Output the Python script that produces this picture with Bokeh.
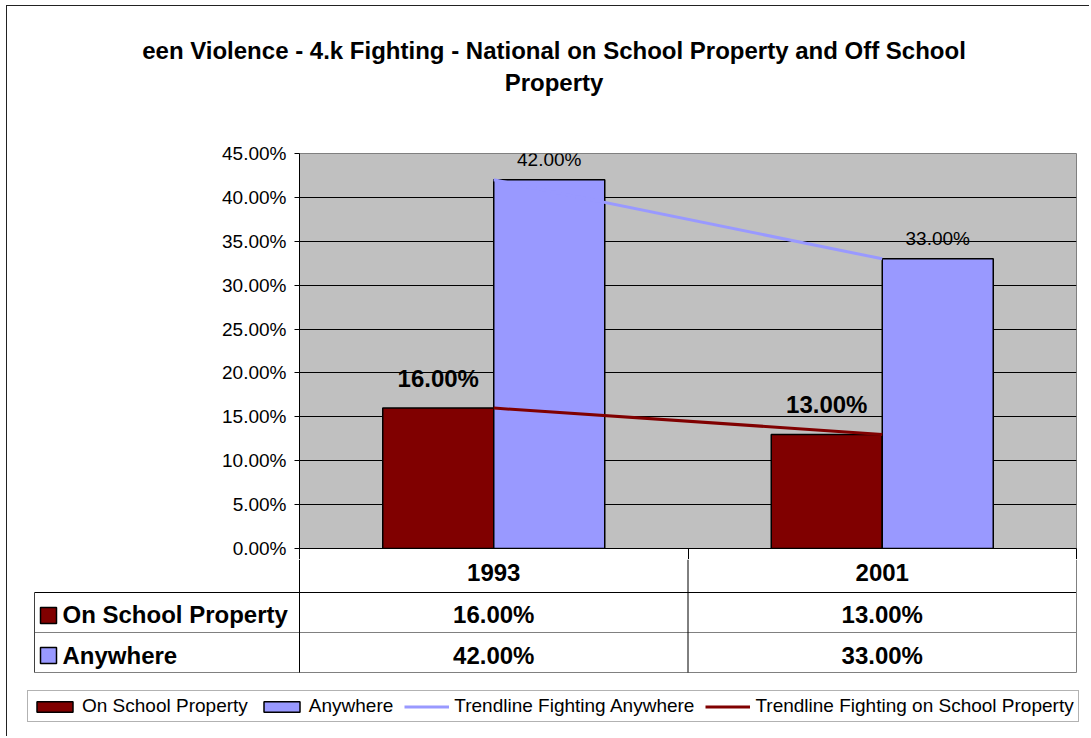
from bokeh.plotting import figure
from bokeh.models import (ColumnDataSource, Range1d, LinearAxis, FixedTicker,
                          PrintfTickFormatter, Legend, LegendItem)
from bokeh.transform import dodge
from bokeh.layouts import column
from bokeh.core.properties import value
from bokeh.embed import file_html
from bokeh.resources import INLINE

# ---------------- data ----------------
title_lines = ["een Violence - 4.k Fighting - National on School Property and Off School",
               "Property"]
years = ["1993", "2001"]
series = ["On School Property", "Anywhere"]
on_school = [16.0, 13.0]
anywhere = [42.0, 33.0]
trend_labels = ["Trendline Fighting Anywhere", "Trendline Fighting on School Property"]
y_ticks = [0, 5, 10, 15, 20, 25, 30, 35, 40, 45]

# ---------------- style / layout (page pixels) ----------------
MAROON = "#800000"
PERI = "#9999FF"
PLOT_BG = "#C0C0C0"
FONT = "Liberation Sans"
OX, OY = 7, 6            # chart area starts just inside its border line
W = 1082
FRAME_L, FRAME_R, FRAME_T, FRAME_B = 299, 1076, 153, 548
A_TOP, A_BOT, PAGE_END = 140, 559, 736
TABLE_L = 34
ROW1_B, ROW2_B, ROW3_B = 592, 632, 672
LEG_L, LEG_B = 27, 722
BAR_W = 1 / 3.5


def fmt(v):
    return f"{v:.2f}%"


n = len(years)
# category slot i occupies [i, i+1] on the x scale; its centre is i + 0.5
src = ColumnDataSource(dict(
    year=years, pos=[i + 0.5 for i in range(n)],
    on_school=on_school, anywhere=anywhere,
    on_school_lbl=[fmt(v) for v in on_school],
    anywhere_lbl=[fmt(v) for v in anywhere],
))

common = dict(output_backend="svg", toolbar_location=None)

# ---------------- title figure ----------------
ft = figure(width=W, height=A_TOP - OY, x_range=Range1d(OX, OX + W),
            y_range=Range1d(A_TOP, OY), min_border=0,
            x_axis_location=None, y_axis_location=None, outline_line_color=None, **common)
ft.frame_align = False
ft.grid.visible = False
title_cx = 553.5
ft.text(x=[title_cx] * len(title_lines), y=[50, 81.5], text=title_lines,
        text_font=value(FONT), text_font_style="bold", text_font_size=value("24px"),
        text_align="center", text_baseline="alphabetic", text_color="black")

# ---------------- main chart ----------------
fa = figure(width=W, height=A_BOT - A_TOP, x_range=Range1d(0, n),
            y_range=Range1d(0, y_ticks[-1]), x_axis_location=None,
            min_border_left=FRAME_L - OX, min_border_right=OX + W - FRAME_R,
            min_border_top=FRAME_T - A_TOP, min_border_bottom=A_BOT - FRAME_B,
            background_fill_color=PLOT_BG, outline_line_color="#808080", **common)
fa.frame_align = False

fa.yaxis.ticker = FixedTicker(ticks=y_ticks, minor_ticks=[])
fa.yaxis.formatter = PrintfTickFormatter(format="%.2f%%")
fa.yaxis.axis_line_color = "black"
fa.yaxis.major_tick_line_color = "black"
fa.yaxis.major_tick_out = 5
fa.yaxis.major_tick_in = 0
fa.yaxis.minor_tick_line_color = None
fa.yaxis.major_label_text_font = FONT
fa.yaxis.major_label_text_font_size = "19px"
fa.yaxis.major_label_text_color = "black"
fa.yaxis.major_label_standoff = 8

fa.ygrid.ticker = FixedTicker(ticks=y_ticks[1:-1], minor_ticks=[])
fa.ygrid.grid_line_color = "black"
fa.xgrid.visible = False

# bottom axis: its ticks continue the data-table column rules up to the plot
col_axis = LinearAxis(ticker=FixedTicker(ticks=list(range(n + 1)), minor_ticks=[]),
                      formatter=PrintfTickFormatter(format=""),
                      major_tick_out=A_BOT - FRAME_B, major_tick_in=0,
                      major_label_text_font_size="0px", major_label_standoff=0,
                      axis_line_color="black", major_tick_line_color="black",
                      minor_tick_line_color=None)
fa.add_layout(col_axis, "below")

fa.vbar(x=dodge("pos", -BAR_W / 2), top="on_school", bottom=0,
        width=BAR_W, source=src, fill_color=MAROON, line_color="black", line_width=1.5)
fa.vbar(x=dodge("pos", BAR_W / 2), top="anywhere", bottom=0,
        width=BAR_W, source=src, fill_color=PERI, line_color="black", line_width=1.5)

fa.line(x="pos", y="anywhere", source=src, line_color=PERI, line_width=3)
fa.line(x="pos", y="on_school", source=src, line_color=MAROON, line_width=3)

fa.text(x=dodge("pos", -BAR_W / 2), y="on_school", text="on_school_lbl",
        source=src, text_font=value(FONT), text_font_style="bold",
        text_font_size=value("24px"), text_align="center", text_baseline="alphabetic",
        y_offset=-30, text_color="black")
fa.text(x=dodge("pos", BAR_W / 2), y="anywhere", text="anywhere_lbl",
        source=src, text_font=value(FONT), text_font_size=value("19px"),
        text_align="center", text_baseline="alphabetic", y_offset=-20, text_color="black")

# ---------------- data table + legend ----------------
fb = figure(width=W, height=PAGE_END - A_BOT, x_range=Range1d(OX, OX + W),
            y_range=Range1d(PAGE_END, A_BOT), min_border=0,
            x_axis_location=None, y_axis_location=None, outline_line_color=None, **common)
fb.frame_align = False
fb.grid.visible = False

cat_w = (FRAME_R - FRAME_L) / n
bounds = [FRAME_L + i * cat_w for i in range(n + 1)]
centers = [FRAME_L + (i + 0.5) * cat_w for i in range(n)]

# horizontal rules
fb.segment(x0=[TABLE_L], x1=[FRAME_R], y0=[ROW1_B], y1=[ROW1_B], line_color="black", line_width=1)
fb.segment(x0=[TABLE_L, TABLE_L], x1=[FRAME_R, FRAME_R], y0=[ROW2_B, ROW3_B],
           y1=[ROW2_B, ROW3_B], line_color="#808080", line_width=1)
# vertical rules
fb.segment(x0=bounds[:-1], x1=bounds[:-1], y0=[A_BOT] * n, y1=[ROW3_B] * n,
           line_color="black", line_width=1)
fb.segment(x0=[bounds[-1]], x1=[bounds[-1]], y0=[A_BOT], y1=[ROW3_B],
           line_color="#808080", line_width=1)
fb.segment(x0=[TABLE_L], x1=[TABLE_L], y0=[ROW1_B], y1=[ROW3_B],
           line_color="#404040", line_width=1)

bold24 = dict(text_font=value(FONT), text_font_style="bold", text_font_size=value("24px"),
              text_baseline="alphabetic", text_color="black")
fb.text(x=centers, y=[572] * n, text=years, text_align="center", **bold24)
fb.text(x=[62] * len(series), y=[614, 655], text=series, text_align="left", **bold24)
fb.text(x=centers, y=[614] * n, text=[fmt(v) for v in on_school], text_align="center", **bold24)
fb.text(x=centers, y=[655] * n, text=[fmt(v) for v in anywhere], text_align="center", **bold24)

sq1 = fb.quad(left=[40], right=[56], top=[607], bottom=[623], fill_color=MAROON,
              line_color="black", line_width=1.5)
sq2 = fb.quad(left=[40], right=[56], top=[647], bottom=[663], fill_color=PERI,
              line_color="black", line_width=1.5)
# legend keys for the trendlines (kept outside the visible y range of this panel)
ln1 = fb.line(x=[0, 1], y=[0, 0], line_color=PERI, line_width=3)
ln2 = fb.line(x=[0, 1], y=[0, 0], line_color=MAROON, line_width=3)

legend = Legend(items=[LegendItem(label=series[0], renderers=[sq1]),
                       LegendItem(label=series[1], renderers=[sq2]),
                       LegendItem(label=trend_labels[0], renderers=[ln1]),
                       LegendItem(label=trend_labels[1], renderers=[ln2])],
                orientation="horizontal", location=(LEG_L - OX, PAGE_END - LEG_B),
                label_text_font=FONT, label_text_font_size="19px", label_text_color="black",
                glyph_width=45, glyph_height=13, label_standoff=5, spacing=11,
                padding=4, margin=0, border_line_color="#666666", border_line_width=1,
                background_fill_color="white", background_fill_alpha=1.0)
fb.add_layout(legend)

layout = column(ft, fa, fb, spacing=0, margin=(OY - 1, 0, 0, OX - 1),
                styles={"border-left": "1px solid #222", "border-top": "1px solid #222"})
open("out.html", "w").write(file_html(layout, INLINE))
